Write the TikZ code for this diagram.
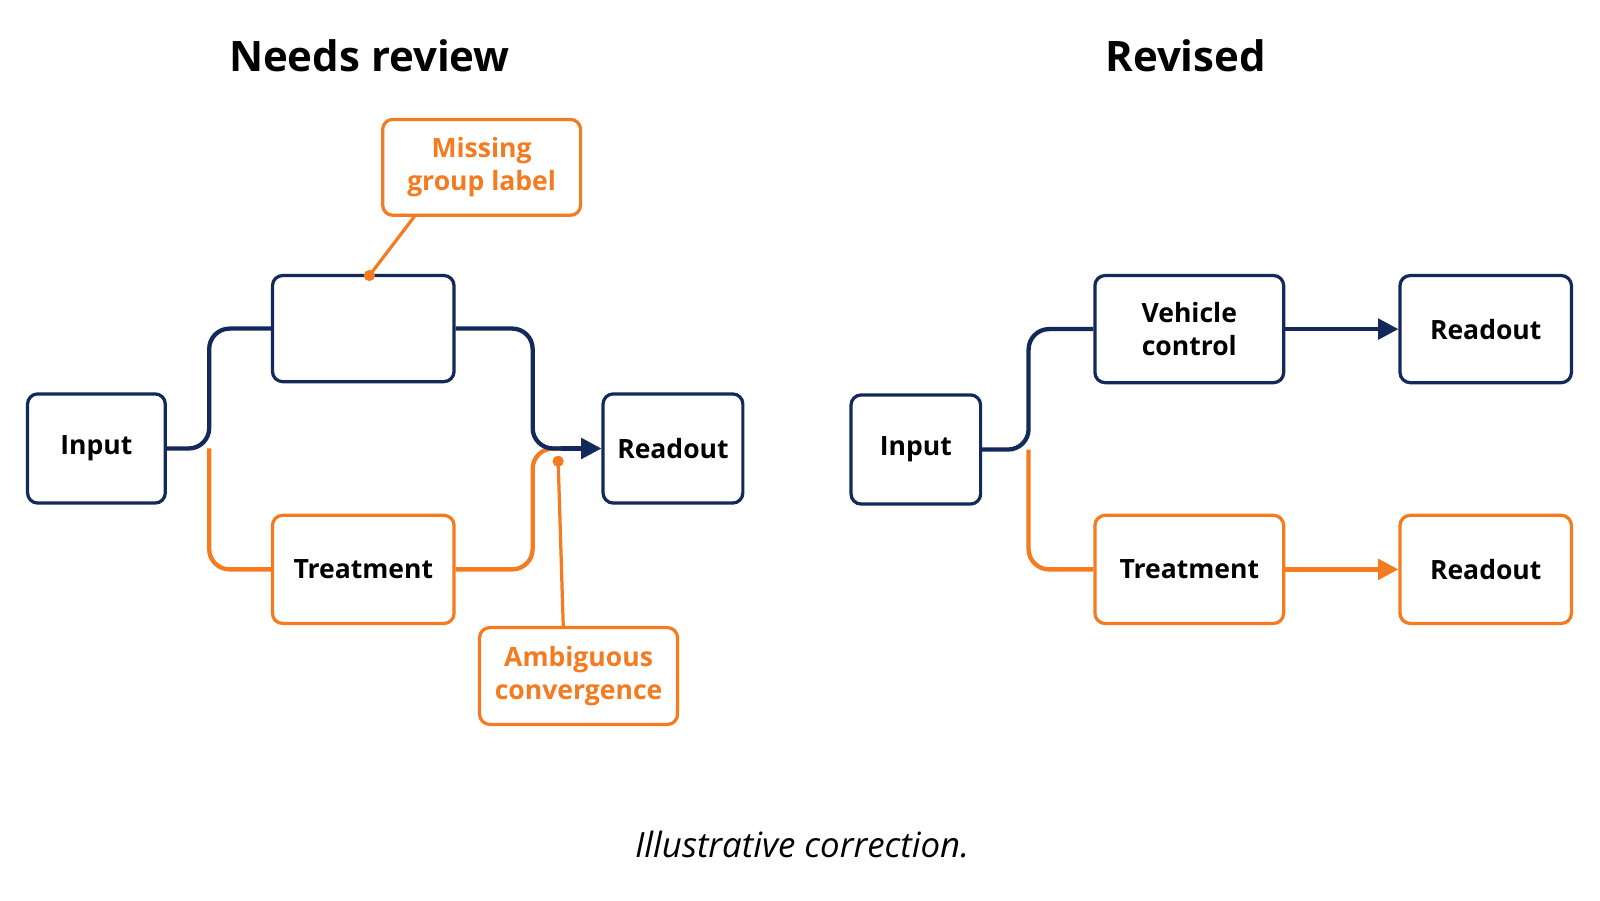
\documentclass[tikz,border=0pt]{standalone}
\usepackage{fontspec}
\setmainfont{Open Sans}
\usetikzlibrary{arrows.meta}
\definecolor{navy}{HTML}{13295C}
\definecolor{org}{HTML}{F47B20}
\tikzset{
 bx/.style={draw=navy,line width=0.9pt,rounded corners=0.1cm,align=center,font=\fontsize{7.4}{9.2}\selectfont\bfseries,fill=white,inner sep=1pt},
 ob/.style={bx,draw=org},
 cal/.style={draw=org,line width=0.9pt,rounded corners=0.1cm,align=center,font=\fontsize{7.4}{9.2}\selectfont\bfseries,text=org,inner sep=1pt},
 nl/.style={draw=navy,line width=1.2pt,rounded corners=0.2cm},
 ol/.style={draw=org,line width=1.2pt,rounded corners=0.2cm},
 ttl/.style={font=\fontsize{11.7}{14}\selectfont\bfseries},
 tip/.style={-{Triangle[length=0.2cm,width=0.2cm]}}
}
\begin{document}
\begin{tikzpicture}
\useasboundingbox (0,0) rectangle (15.68,8.82);
\fill[white] (0,0) rectangle (15.68,8.82);
\begin{scope}[yshift=-0.18cm]
\node[ttl] (t1) at (3.62,8.45) {Needs review};
\node[ttl] (t2) at (11.62,8.45) {Revised};
\node[font=\fontsize{9.7}{12}\selectfont\itshape] (cap) at (7.86,0.72) {Illustrative correction.};
% left
\node[bx,minimum width=1.35cm,minimum height=1.07cm] (in1) at (0.945,4.605) {Input};
\node[bx,minimum width=1.78cm,minimum height=1.04cm] (up) at (3.56,5.78) {};
\node[ob,minimum width=1.78cm,minimum height=1.06cm] (tr1) at (3.56,3.42) {Treatment};
\node[bx,minimum width=1.37cm,minimum height=1.07cm] (ro1) at (6.595,4.605) {Readout};
\node[cal,minimum width=1.94cm,minimum height=0.94cm] (mg) at (4.72,7.36) {Missing\\group label};
\node[cal,minimum width=1.94cm,minimum height=0.95cm] (ac) at (5.67,2.375) {Ambiguous\\convergence};
\coordinate (b1) at (2.05,4.605);
\coordinate (j1) at (5.5,4.605);
\draw[ol] (b1) |- (tr1.west);
\draw[ol] (tr1.east) -- (5.22,3.42) -- (5.22,4.605) -- (j1);
\draw[nl] (in1.east) -- (b1) |- (up.west);
\draw[nl] (up.east) -- (5.22,5.78) -- (5.22,4.605) -- (j1);
\draw[navy,line width=1.2pt,tip] (j1) -- (ro1.west);
\coordinate (d1) at (3.62,6.3);
\coordinate (d2) at (5.47,4.48);
\draw[org,line width=0.9pt] (d1) -- (4.07,6.89);
\draw[org,line width=0.9pt] (d2) -- (5.52,2.86);
\fill[org] (d1) circle (0.055cm) (d2) circle (0.055cm);
% right
\node[bx,minimum width=1.27cm,minimum height=1.07cm] (in2) at (8.975,4.595) {Input};
\node[bx,minimum width=1.85cm,minimum height=1.05cm] (vc) at (11.655,5.775) {Vehicle\\control};
\node[bx,minimum width=1.68cm,minimum height=1.05cm] (ro2) at (14.56,5.775) {Readout};
\node[ob,minimum width=1.85cm,minimum height=1.06cm] (tr2) at (11.655,3.42) {Treatment};
\node[ob,minimum width=1.68cm,minimum height=1.06cm] (ro3) at (14.56,3.42) {Readout};
\coordinate (b2) at (10.08,4.595);
\draw[ol] (b2) |- (tr2.west);
\draw[nl] (in2.east) -- (b2) |- (vc.west);
\draw[navy,line width=1.2pt,tip] (vc.east) -- (ro2.west);
\draw[org,line width=1.2pt,tip] (tr2.east) -- (ro3.west);
\end{scope}
\end{tikzpicture}
\end{document}
